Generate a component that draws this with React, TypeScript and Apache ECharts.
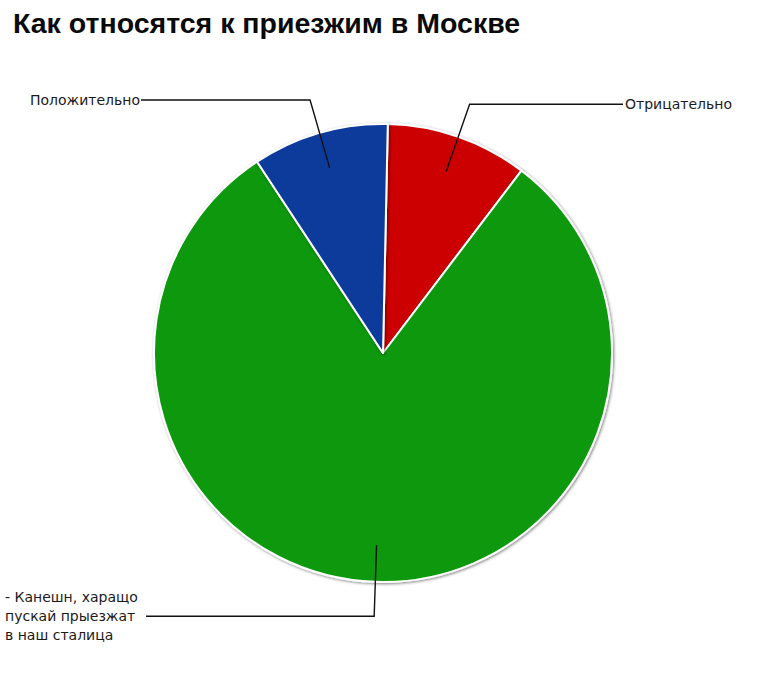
import { useEffect, useRef } from "react";
import * as echarts from "echarts";

// данные
const names = [
  "Отрицательно",
  "- Канешн, харащо\nпускай прыезжат\nв наш сталица",
  "Положительно",
];
const values = [10, 80.4, 9.6];
const colors = ["#cc0000", "#089808", "#0b3b9b"];

const title = "Как относятся к приезжим в Москве";

// геометрия
const W = 765;
const H = 675;
const CX = 383;
const CY = 353;
const R = 229;
const START = 88.8;

// куда уходят выноски
const lineEndX = [623, 146, 141];
const labelX = [625, 5, 140];
const labelAlign = ["left", "left", "right"];

function midAngle(i: number) {
  const total = values.reduce((a, b) => a + b, 0);
  let cum = 0;
  for (let k = 0; k < i; k++) cum += values[k];
  // по часовой от 12 часов, в радианах
  const deg = 90 - START + (360 * (cum + values[i] / 2)) / total;
  return (deg * Math.PI) / 180;
}

function pointAt(angle: number, r: number) {
  return [CX + r * Math.sin(angle), CY - r * Math.cos(angle)];
}

export default function App() {
  const ref = useRef<HTMLDivElement>(null);

  useEffect(() => {
    if (!ref.current) return;
    const chart = echarts.init(ref.current, null, { renderer: "svg" });

    const data = values.map((v, i) => ({ value: v, name: names[i] }));

    chart.setOption({
      animation: false,
      backgroundColor: "#ffffff",
      title: {
        text: title,
        left: 8,
        top: 3,
        textStyle: {
          fontFamily: "Liberation Sans",
          fontWeight: "bold",
          fontSize: 28.5,
          color: "#0a0a0a",
        },
      },
      series: [
        // сам пирог
        {
          type: "pie",
          z: 2,
          center: [CX, CY],
          radius: R,
          startAngle: START,
          clockwise: true,
          data: data.map((d, i) => ({ ...d, itemStyle: { color: colors[i] } })),
          itemStyle: {
            borderColor: "#ffffff",
            borderWidth: 2,
            shadowColor: "rgba(0,0,0,0.5)",
            shadowBlur: 3,
            shadowOffsetX: 1,
            shadowOffsetY: 1,
          },
          label: { show: false },
          labelLine: { show: false },
          emphasis: { disabled: true },
          silent: true,
        },
        // прозрачная копия поверх — только подписи и выноски
        {
          type: "pie",
          z: 5,
          center: [CX, CY],
          radius: R,
          startAngle: START,
          clockwise: true,
          data,
          itemStyle: { color: "rgba(0,0,0,0)", borderWidth: 0 },
          label: {
            show: true,
            position: "outside",
            formatter: "{b}",
            fontFamily: "DejaVu Sans",
            fontSize: 14,
            lineHeight: 19,
            color: "#1a1a1a",
          },
          labelLine: {
            show: true,
            showAbove: true,
            smooth: false,
            lineStyle: { color: "#111", width: 1.4 },
          },
          labelLayout: (params: any) => {
            const i = params.dataIndex;
            const a = midAngle(i);
            const p0 = pointAt(a, R * 0.84);
            const p1 = pointAt(a, R * 1.15);
            const p2 = [lineEndX[i], p1[1]];
            return {
              x: labelX[i],
              y: p1[1],
              align: labelAlign[i],
              verticalAlign: "middle",
              labelLinePoints: [p0, p1, p2],
            };
          },
          emphasis: { disabled: true },
          silent: true,
        },
      ],
    });

    return () => chart.dispose();
  }, []);

  return (
    <div
      ref={ref}
      style={{ position: "fixed", left: 0, top: 0, width: W, height: H }}
    />
  );
}
